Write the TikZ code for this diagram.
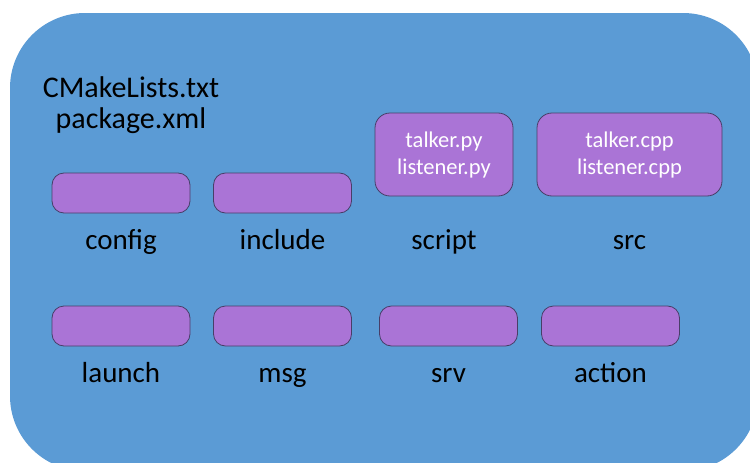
\documentclass[tikz,border=0pt]{standalone}
\usepackage{fontspec}
\setmainfont{Carlito}
\usetikzlibrary{positioning}
\definecolor{pkgblue}{RGB}{91,155,213}
\definecolor{dirpurple}{RGB}{170,116,214}
\definecolor{diredge}{RGB}{72,62,104}
\tikzset{
  dirbox/.style={draw=diredge, line width=0.8pt, fill=dirpurple, rounded corners=12pt,
    minimum width=138pt, minimum height=40pt, inner sep=0pt},
  filebox/.style={dirbox, minimum height=83pt, rounded corners=15pt, text=white,
    align=center, font=\fontsize{22.5}{27}\selectfont},
  dirlabel/.style={font=\fontsize{29}{31}\selectfont, inner sep=0pt},
}
\begin{document}
\begin{tikzpicture}[x=1pt,y=-1pt]
\useasboundingbox (0,0) rectangle (750,463);
\clip (0,0) rectangle (750,463);

\fill[pkgblue, rounded corners=75pt] (10,13) rectangle (758,471);

\node[dirlabel, align=center, font=\fontsize{30}{31}\selectfont] (files) at (131,105) {CMakeLists.txt\\package.xml};

\node[dirbox] (configbox) at (121,193) {};
\node[dirbox] (includebox) at (282.5,193) {};
\node[filebox] (scriptbox) at (444,154.5) {talker.py\\listener.py};
\node[filebox, minimum width=185pt] (srcbox) at (629.5,154.5) {talker.cpp\\listener.cpp};

\node[dirbox] (launchbox) at (121,326) {};
\node[dirbox] (msgbox) at (282.5,326) {};
\node[dirbox] (srvbox) at (448.5,326) {};
\node[dirbox] (actionbox) at (610.5,326) {};

\node[dirlabel, below=36pt of configbox, anchor=base] (config) {config};
\node[dirlabel, below=36pt of includebox, anchor=base] (include) {include};
\node[dirlabel, anchor=base] (script) at (scriptbox |- config.base) {script};
\node[dirlabel, anchor=base] (src) at (srcbox |- config.base) {src};

\node[dirlabel, below=36pt of launchbox, anchor=base] (launch) {launch};
\node[dirlabel, below=36pt of msgbox, anchor=base] (msg) {msg};
\node[dirlabel, below=36pt of srvbox, anchor=base] (srv) {srv};
\node[dirlabel, below=36pt of actionbox, anchor=base] (action) {action};
\end{tikzpicture}
\end{document}
